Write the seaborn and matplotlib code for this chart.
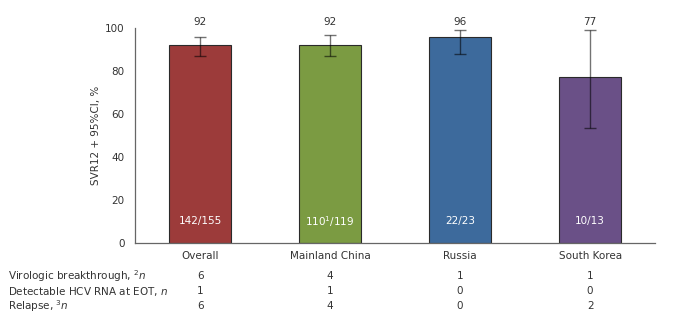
import matplotlib
matplotlib.use("Agg")
import matplotlib.pyplot as plt
import matplotlib.transforms as mtransforms
import seaborn as sns
import pandas as pd

# ── data ──────────────────────────────
groups = ["Overall", "Mainland China", "Russia", "South Korea"]
svr = [92, 92.3, 95.7, 77]
ci_low = [86.8, 87.0, 88.0, 53.5]
ci_high = [95.6, 96.6, 99.2, 98.9]
top_labels = ["92", "92", "96", "77"]
n_labels = ["142/155", r"110$^{1}$/119", "22/23", "10/13"]
bar_colors = ["#9C3B3A", "#7B9B42", "#3D6A9C", "#6A5087"]

row_names = [r"Virologic breakthrough, $^{2}\mathit{n}$",
             r"Detectable HCV RNA at EOT, $\mathit{n}$",
             r"Relapse, $^{3}\mathit{n}$"]
breakthrough = [6, 4, 1, 1]
detectable = [1, 1, 0, 0]
relapse = [6, 4, 0, 2]

df = pd.DataFrame({"group": groups, "svr": svr})

sns.set_style("white")
plt.rcParams["font.family"] = ["DejaVu Sans"]
plt.rcParams["mathtext.fontset"] = "dejavusans"

fig = plt.figure(figsize=(6.76, 3.24), dpi=100)
ax = fig.add_axes([0.2, 0.25, 0.769, 0.6636])

sns.barplot(data=df, x="group", y="svr", hue="group", palette=bar_colors,
            legend=False, width=0.48, edgecolor="#2a2a2a", linewidth=0.8,
            saturation=1, ax=ax)

# 95% CI
xs = range(len(groups))
yerr = [[s - lo for s, lo in zip(svr, ci_low)], [hi - s for s, hi in zip(svr, ci_high)]]
ax.errorbar(xs, svr, yerr=yerr, fmt="none", ecolor="black", alpha=0.55,
            elinewidth=1.0, capsize=4, capthick=1.0, zorder=4)

for i in xs:
    ax.text(i, 103, top_labels[i], ha="center", va="center", fontsize=7.5,
            color="#333333", clip_on=False)
    ax.text(i, 10, n_labels[i], ha="center", va="center", fontsize=7.5, color="white")

ax.set_xlim(-0.5, 3.5)
ax.set_ylim(0, 100)
ax.set_yticks([0, 20, 40, 60, 80, 100])
ax.set_xticks([0.5, 1.5, 2.5, 3.5], minor=True)
ax.tick_params(axis="y", which="major", direction="out", length=4, width=0.8,
               colors="#555555", labelsize=7.5, labelcolor="#333333")
ax.tick_params(axis="x", which="major", length=0, labelsize=7.5, labelcolor="#333333", pad=6)
ax.tick_params(axis="x", which="minor", direction="in", length=3, width=0.8, colors="#555555")
ax.set_xlabel("")
ax.set_ylabel("SVR12 + 95%CI, %", fontsize=7.5, color="#333333", labelpad=3)

for side in ["top", "right"]:
    ax.spines[side].set_visible(False)
for side in ["left", "bottom"]:
    ax.spines[side].set_color("#666666")
    ax.spines[side].set_linewidth(0.9)

# ── table below the axis ──────────────────
trans = mtransforms.blended_transform_factory(ax.transData, fig.transFigure)
row_y = [1 - 276 / 324, 1 - 291 / 324, 1 - 306 / 324]
for name, vals, y in zip(row_names, [breakthrough, detectable, relapse], row_y):
    fig.text(8 / 676, y, name, ha="left", va="center", fontsize=7.5, color="#333333")
    for i, v in enumerate(vals):
        ax.text(i, y, str(v), transform=trans, ha="center", va="center",
                fontsize=7.5, color="#333333")

plt.savefig("out.png", dpi=100)
plt.close()
